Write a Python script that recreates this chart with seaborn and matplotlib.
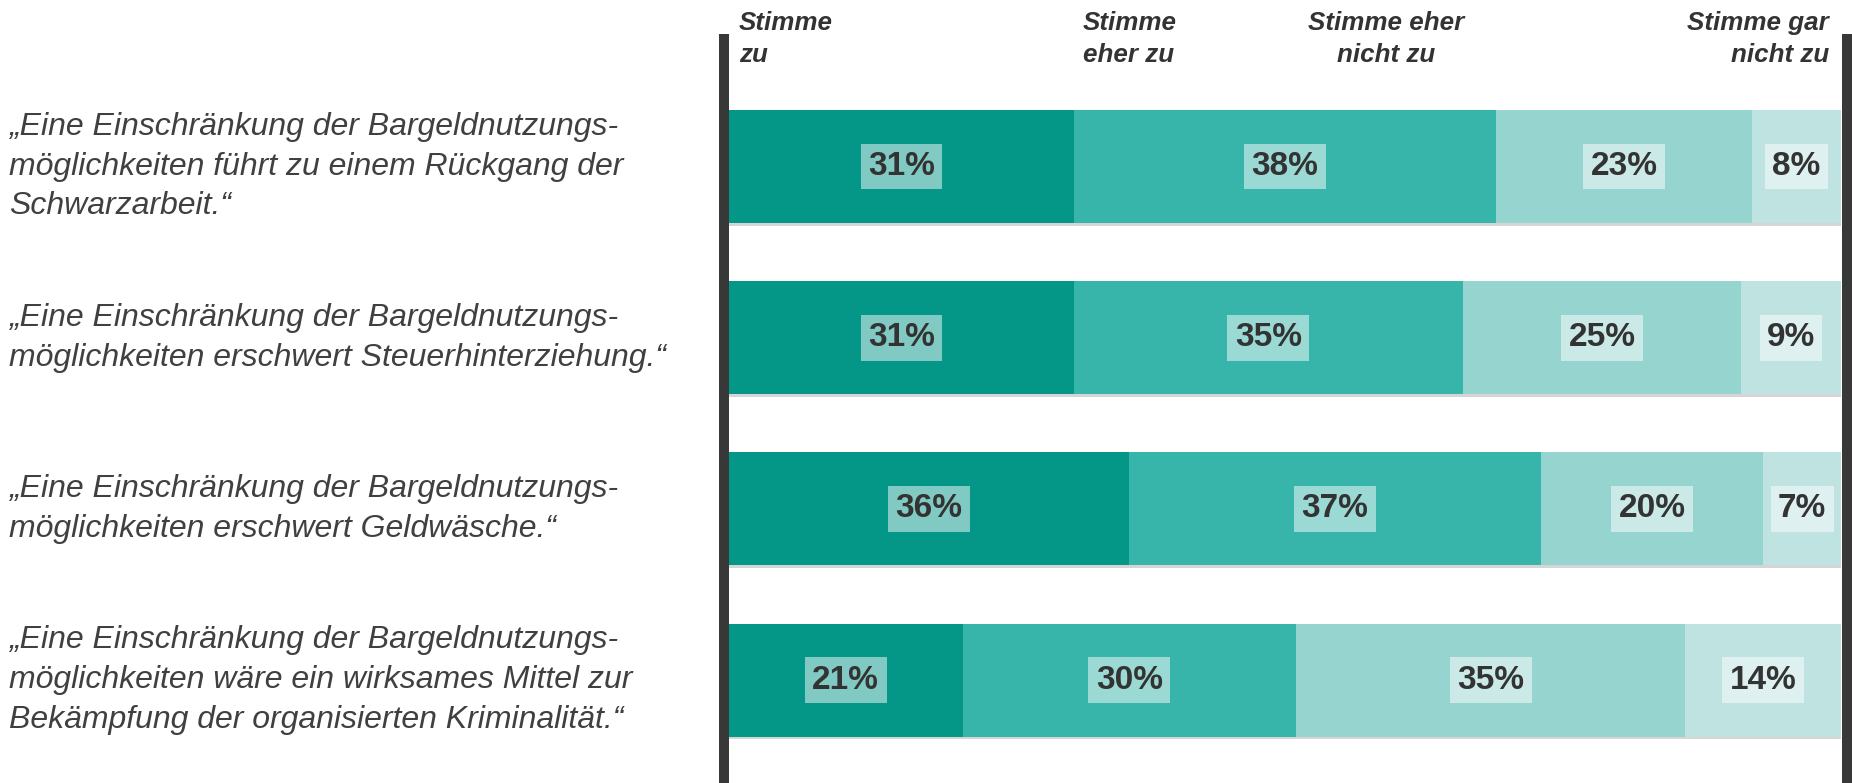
import numpy as np
import pandas as pd
import matplotlib
matplotlib.use("Agg")
import matplotlib.pyplot as plt
import matplotlib.patheffects as pe
from matplotlib.transforms import blended_transform_factory
import seaborn as sns

# ---------------- data ----------------
statements = [
    "„Eine Einschränkung der Bargeldnutzungs-\nmöglichkeiten führt zu einem Rückgang der\nSchwarzarbeit.“",
    "„Eine Einschränkung der Bargeldnutzungs-\nmöglichkeiten erschwert Steuerhinterziehung.“",
    "„Eine Einschränkung der Bargeldnutzungs-\nmöglichkeiten erschwert Geldwäsche.“",
    "„Eine Einschränkung der Bargeldnutzungs-\nmöglichkeiten wäre ein wirksames Mittel zur\nBekämpfung der organisierten Kriminalität.“",
]
answers = ["Stimme\nzu", "Stimme\neher zu", "Stimme eher\nnicht zu", "Stimme gar\nnicht zu"]
stimme_zu = [31, 31, 36, 21]
eher_zu = [38, 35, 37, 30]
eher_nicht_zu = [23, 25, 20, 35]
gar_nicht_zu = [8, 9, 7, 14]

colors = ["#049687", "#38B5AA", "#96D4CF", "#BEE3E1"]
text_color = "#333333"
label_color = "#404040"
line_color = "#383838"

# ---------------- figure ----------------
sns.set_style("white")
plt.rcParams["font.family"] = ["Liberation Sans", "DejaVu Sans"]

W, H = 1852, 783
fig = plt.figure(figsize=(W / 100, H / 100), dpi=100)
ax_left, ax_right = 729, 1841
ax_top, ax_bottom = 81, 765.6
ax = fig.add_axes([ax_left / W, 1 - ax_bottom / H, (ax_right - ax_left) / W, (ax_bottom - ax_top) / H])

series = [stimme_zu, eher_zu, eher_nicht_zu, gar_nicht_zu]
df = pd.DataFrame({"statement": statements})
cum = np.cumsum(np.array(series), axis=0)  # stacked ends

shadow = [pe.SimplePatchShadow(offset=(0.3, -2.0), shadow_rgbFace="#888888", alpha=0.35), pe.Normal()]

for i in reversed(range(4)):
    df[f"c{i}"] = cum[i]
    n_before = len(ax.patches)
    sns.barplot(data=df, x=f"c{i}", y="statement", color=colors[i], width=0.66,
                orient="h", ax=ax, linewidth=0, saturation=1, errorbar=None)
    if i == 3:
        for p in ax.patches[n_before:]:
            p.set_path_effects(shadow)

ax.set_xlim(0, 100)
ax.set_ylim(3.5, -0.5)
ax.set_xticks([])
ax.set_yticks([])
ax.set_xlabel("")
ax.set_ylabel("")
for sp in ax.spines.values():
    sp.set_visible(False)

# percent labels
for i in range(4):
    for j in range(len(statements)):
        val = series[i][j]
        xc = cum[i][j] - val / 2
        ax.text(xc, j, f"{val}%", ha="center", va="center", fontsize=24, fontweight="bold",
                color=text_color,
                bbox=dict(boxstyle="square,pad=0.22", fc=(1, 1, 1, 0.5), ec="none"))

# vertical frame lines
ymax_line = (ax_bottom - 34) / (ax_bottom - ax_top)
ax.axvline(-0.45, ymin=-0.03, ymax=ymax_line, color=line_color,
           lw=7.2, clip_on=False, solid_capstyle="butt")
ax.axvline(100.5, ymin=-0.03, ymax=ymax_line, color=line_color,
           lw=7.2, clip_on=False, solid_capstyle="butt")

# column headers
hdr_tr = blended_transform_factory(ax.transData, fig.transFigure)
hdr_pos = [(0.9, "left"), (31.8, "left"), (59.1, "center"), (98.9, "right")]
for (x, ha), txt in zip(hdr_pos, answers):
    ax.text(x, 1 - 11 / H, txt, transform=hdr_tr, ha=ha, va="top", fontsize=18.7,
            fontweight="bold", fontstyle="italic", color=text_color, linespacing=1.4, clip_on=False)

# statement labels
lab_tr = blended_transform_factory(fig.transFigure, ax.transData)
for j, s in enumerate(statements):
    ax.text(9 / W, j, s, transform=lab_tr, ha="left", va="center", fontsize=23,
            fontstyle="italic", color=label_color, linespacing=1.42, clip_on=False)

fig.savefig("out.png", dpi=100)
